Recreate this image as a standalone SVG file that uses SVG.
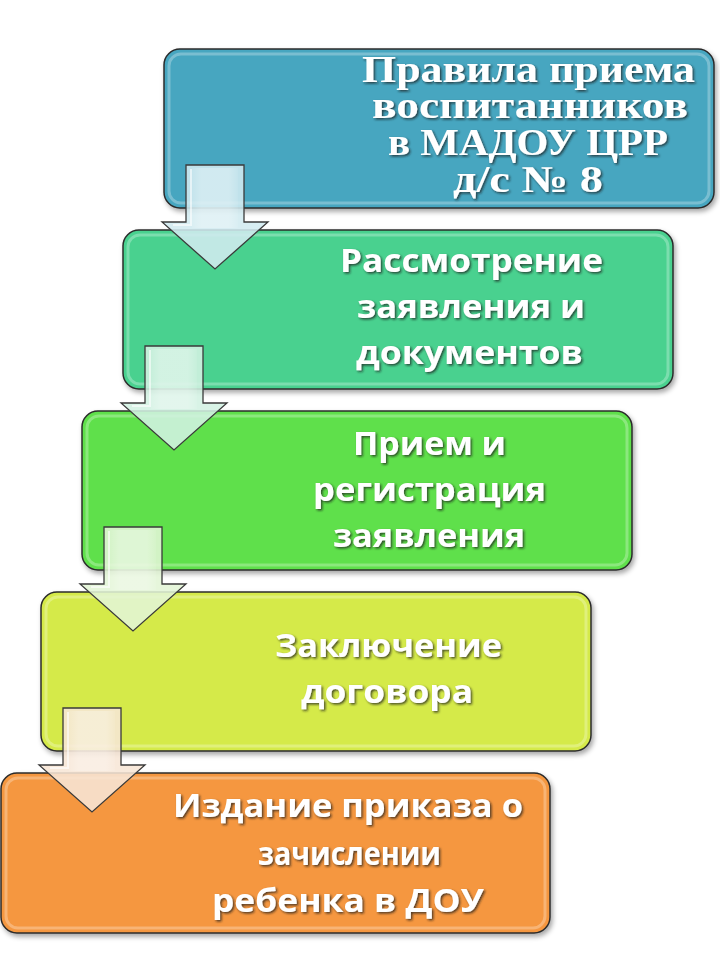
<svg xmlns="http://www.w3.org/2000/svg" width="720" height="960" viewBox="0 0 720 960">
<defs>
<filter id="boxShadow" x="-5%" y="-10%" width="115%" height="130%">
<feDropShadow dx="2" dy="3" stdDeviation="2.5" flood-color="#000" flood-opacity="0.35"/>
</filter>
<filter id="txtShadow" x="-5%" y="-20%" width="115%" height="150%">
<feDropShadow dx="1.5" dy="1.5" stdDeviation="1.2" flood-color="#1a1a1a" flood-opacity="0.75"/>
</filter>
<linearGradient id="arrowGloss" x1="0" y1="0" x2="1" y2="0">
<stop offset="0" stop-color="#fff" stop-opacity="0.15"/>
<stop offset="0.2" stop-color="#fff" stop-opacity="0.55"/>
<stop offset="0.8" stop-color="#fff" stop-opacity="0.55"/>
<stop offset="1" stop-color="#fff" stop-opacity="0.15"/>
</linearGradient>
</defs>
<style>
.box{stroke:#2b2b2b;stroke-width:1.5;filter:url(#boxShadow)}
.bevel{fill:none;stroke:#fff;stroke-opacity:0.28;stroke-width:3}
.serif{font-family:"Liberation Serif","Times New Roman",serif;font-weight:bold;font-size:38px;fill:#fff;filter:url(#txtShadow)}
.sans{font-family:"Open Sans","Noto Sans","Liberation Sans",sans-serif;font-weight:bold;font-size:32px;fill:#fff;filter:url(#txtShadow)}
.arrow{stroke:#3a3a3a;stroke-width:1.3;stroke-linejoin:miter}
.gloss{fill:none;stroke:#fff;stroke-opacity:0.6;stroke-width:2}
</style>
<rect width="720" height="960" fill="#fff"/>

<g id="node1">
<rect class="box" x="164" y="49" width="550" height="159" rx="16" fill="#46a6c0"/>
<rect class="bevel" x="169" y="54" width="540" height="149" rx="12"/>
<text class="serif" x="362" y="82" textLength="333" lengthAdjust="spacingAndGlyphs">Правила приема</text>
<text class="serif" x="372" y="118" textLength="316" lengthAdjust="spacingAndGlyphs">воспитанников</text>
<text class="serif" x="388" y="155" textLength="280" lengthAdjust="spacingAndGlyphs">в МАДОУ ЦРР</text>
<text class="serif" x="453" y="192" textLength="150" lengthAdjust="spacingAndGlyphs">д/с № 8</text>
</g>

<g id="node2">
<rect class="box" x="123" y="230" width="550" height="159" rx="16" fill="#48d18f"/>
<rect class="bevel" x="128" y="235" width="540" height="149" rx="12"/>
<text class="sans" x="340" y="272" textLength="263" lengthAdjust="spacingAndGlyphs">Рассмотрение</text>
<text class="sans" x="357" y="318" textLength="228" lengthAdjust="spacingAndGlyphs">заявления и</text>
<text class="sans" x="356" y="364" textLength="227" lengthAdjust="spacingAndGlyphs">документов</text>
</g>

<g id="node3">
<rect class="box" x="82" y="411" width="550" height="159" rx="16" fill="#5fe04b"/>
<rect class="bevel" x="87" y="416" width="540" height="149" rx="12"/>
<text class="sans" x="353" y="455" textLength="153" lengthAdjust="spacingAndGlyphs">Прием и</text>
<text class="sans" x="313" y="501" textLength="233" lengthAdjust="spacingAndGlyphs">регистрация</text>
<text class="sans" x="333" y="547" textLength="192" lengthAdjust="spacingAndGlyphs">заявления</text>
</g>

<g id="node4">
<rect class="box" x="41" y="592" width="550" height="159" rx="16" fill="#d5ea4a"/>
<rect class="bevel" x="46" y="597" width="540" height="149" rx="12"/>
<text class="sans" x="275" y="657" textLength="227" lengthAdjust="spacingAndGlyphs">Заключение</text>
<text class="sans" x="301" y="703" textLength="172" lengthAdjust="spacingAndGlyphs">договора</text>
</g>

<g id="node5">
<rect class="box" x="1" y="773" width="549" height="160" rx="16" fill="#f5973f"/>
<rect class="bevel" x="6" y="778" width="539" height="150" rx="12"/>
<text class="sans" x="173" y="817" textLength="350" lengthAdjust="spacingAndGlyphs">Издание приказа о</text>
<text class="sans" x="258" y="865" textLength="183" lengthAdjust="spacingAndGlyphs">зачислении</text>
<text class="sans" x="212" y="912" textLength="272" lengthAdjust="spacingAndGlyphs">ребенка в ДОУ</text>
</g>

<g id="connectors">
<g transform="translate(215,165)">
<polygon class="arrow" points="-29,0 29,0 29,57 53,57 0,104 -53,57 -29,57" fill="#d2eaf0" fill-opacity="0.88"/>
<rect x="-23" y="3" width="46" height="60" fill="url(#arrowGloss)" opacity="0.5"/>
<polyline class="gloss" points="-24,4 -24,60 -42,60"/>
</g>
<g transform="translate(174,346)">
<polygon class="arrow" points="-29,0 29,0 29,57 53,57 0,104 -53,57 -29,57" fill="#d3f1e3" fill-opacity="0.88"/>
<rect x="-23" y="3" width="46" height="60" fill="url(#arrowGloss)" opacity="0.5"/>
<polyline class="gloss" points="-24,4 -24,60 -42,60"/>
</g>
<g transform="translate(133,527)">
<polygon class="arrow" points="-29,0 29,0 29,57 53,57 0,104 -53,57 -29,57" fill="#e2f5d6" fill-opacity="0.88"/>
<rect x="-23" y="3" width="46" height="60" fill="url(#arrowGloss)" opacity="0.5"/>
<polyline class="gloss" points="-24,4 -24,60 -42,60"/>
</g>
<g transform="translate(92,708)">
<polygon class="arrow" points="-29,0 29,0 29,57 53,57 0,104 -53,57 -29,57" fill="#f7e6d6" fill-opacity="0.88"/>
<rect x="-23" y="3" width="46" height="60" fill="url(#arrowGloss)" opacity="0.5"/>
<polyline class="gloss" points="-24,4 -24,60 -42,60"/>
</g>
</g>
</svg>
